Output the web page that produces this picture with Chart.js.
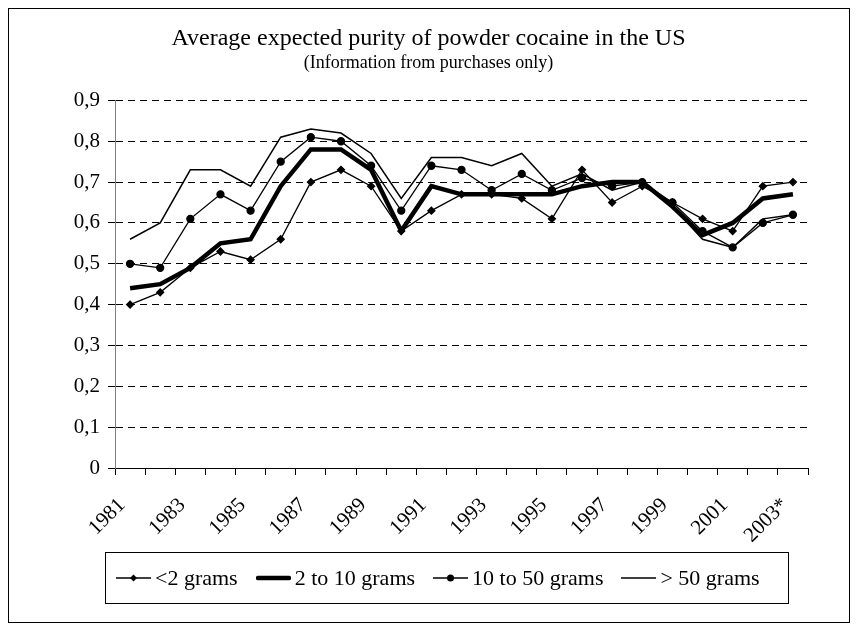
<!DOCTYPE html>
<html>
<head>
<meta charset="utf-8">
<script src="https://cdn.jsdelivr.net/npm/chart.js@4.4.1/dist/chart.umd.min.js"></script>
<style>
  html, body { margin: 0; padding: 0; background: #fff; }
  #wrap { position: relative; width: 857px; height: 631px; }
  #purityChart { position: absolute; left: 0; top: 0; }
  #frame { position: absolute; left: 8px; top: 8px; width: 840px; height: 613px; border: 1px solid #000; pointer-events: none; }
  #legend {
    position: absolute; left: 105px; top: 552px; width: 672px; height: 50px;
    border: 1px solid #000; display: flex; align-items: center; padding-left: 10px; box-sizing: content-box;
    font-family: "Liberation Serif", "DejaVu Serif", serif; font-size: 22px; color: #000; white-space: nowrap;
  }
  #legend .item { display: flex; align-items: center; margin-right: 18px; }
  #legend canvas { margin-right: 4px; }
</style>
</head>
<body>
<div id="wrap">
  <canvas id="purityChart" width="857" height="631"></canvas>
  <div id="frame"></div>
  <div id="legend"></div>
</div>
<script>
// years on the x axis (last one is an estimate)
const years = ['1981', '1982', '1983', '1984', '1985', '1986', '1987', '1988', '1989', '1990',
  '1991', '1992', '1993', '1994', '1995', '1996', '1997', '1998', '1999', '2000',
  '2001', '2002', '2003*'];

// expected purity per purchase size
const under2 = [0.40, 0.43, 0.49, 0.53, 0.51, 0.56, 0.70, 0.73, 0.69, 0.58,
  0.63, 0.67, 0.67, 0.66, 0.61, 0.73, 0.65, 0.69, 0.65, 0.61,
  0.58, 0.69, 0.70];
const from2to10 = [0.44, 0.45, 0.49, 0.55, 0.56, 0.69, 0.78, 0.78, 0.73, 0.58,
  0.69, 0.67, 0.67, 0.67, 0.67, 0.69, 0.70, 0.70, 0.64, 0.57,
  0.60, 0.66, 0.67];
const from10to50 = [0.50, 0.49, 0.61, 0.67, 0.63, 0.75, 0.81, 0.80, 0.74, 0.63,
  0.74, 0.73, 0.68, 0.72, 0.68, 0.71, 0.69, 0.70, 0.65, 0.58,
  0.54, 0.60, 0.62];
const over50 = [0.56, 0.60, 0.73, 0.73, 0.69, 0.81, 0.83, 0.82, 0.77, 0.66,
  0.76, 0.76, 0.74, 0.77, 0.69, 0.72, 0.68, 0.70, 0.64, 0.56,
  0.54, 0.61, 0.62];

const yTicks = [0, 0.1, 0.2, 0.3, 0.4, 0.5, 0.6, 0.7, 0.8, 0.9];

const serif = '"Liberation Serif", "DejaVu Serif", serif';

const chart = new Chart(document.getElementById('purityChart'), {
  type: 'line',
  data: {
    labels: years,
    datasets: [{
      label: '<2 grams',
      data: under2,
      borderColor: '#000',
      backgroundColor: '#000',
      borderWidth: 1.3,
      pointStyle: 'rectRot',
      pointRadius: 3.5,
      fill: false
    }, {
      label: '2 to 10 grams',
      data: from2to10,
      borderColor: '#000',
      backgroundColor: '#000',
      borderWidth: 4.5,
      pointRadius: 0,
      fill: false
    }, {
      label: '10 to 50 grams',
      data: from10to50,
      borderColor: '#000',
      backgroundColor: '#000',
      borderWidth: 1.3,
      pointStyle: 'circle',
      pointRadius: 3.5,
      fill: false
    }, {
      label: '> 50 grams',
      data: over50,
      borderColor: '#000',
      backgroundColor: '#000',
      borderWidth: 1.5,
      pointRadius: 0,
      fill: false
    }]
  },
  options: {
    responsive: false,
    animation: false,
    layout: { padding: { left: 49, right: 49, top: 0, bottom: 79 } },
    elements: { line: { tension: 0 } },
    plugins: {
      title: {
        display: true,
        text: 'Average expected purity of powder cocaine in the US',
        color: '#000',
        font: { family: serif, size: 24, weight: 'normal' },
        padding: { top: 24, bottom: 0 }
      },
      subtitle: {
        display: true,
        text: '(Information from purchases only)',
        color: '#000',
        font: { family: serif, size: 18, weight: 'normal' },
        padding: { top: 0, bottom: 26 }
      },
      legend: { display: false },
      tooltip: { enabled: false }
    },
    scales: {
      x: {
        offset: true,
        afterFit: s => { s.height = 84; },
        grid: { offset: true, drawOnChartArea: false, color: '#000', tickLength: 7 },
        border: { color: '#000', width: 1 },
        ticks: {
          autoSkip: false,
          minRotation: 45,
          maxRotation: 45,
          padding: 18,
          labelOffset: -8,
          color: '#000',
          font: { family: serif, size: 21 },
          callback: (v, i) => (i % 2 === 0 ? years[i] : '')
        }
      },
      y: {
        min: 0,
        max: 0.9,
        afterBuildTicks: s => { s.ticks = yTicks.map(v => ({ value: v })); },
        afterFit: s => { s.width = 66; },
        grid: { color: '#000', lineWidth: 1, tickLength: 7, tickBorderDash: [] },
        border: { color: '#808080', width: 1, dash: [7, 5] },
        ticks: {
          padding: 8,
          color: '#000',
          font: { family: serif, size: 21 },
          callback: v => (v === 0 ? '0' : v.toFixed(1).replace('.', ','))
        }
      }
    }
  }
});

// legend below the chart, built from the datasets
function legendSample(ds) {
  const c = document.createElement('canvas');
  c.width = 35;
  c.height = 12;
  const g = c.getContext('2d');
  g.strokeStyle = '#000';
  g.fillStyle = '#000';
  g.lineWidth = ds.borderWidth;
  g.lineCap = ds.borderWidth > 3 ? 'round' : 'butt';
  g.beginPath();
  g.moveTo(ds.borderWidth > 3 ? 2 : 0, 6);
  g.lineTo(ds.borderWidth > 3 ? 33 : 35, 6);
  g.stroke();
  if (ds.pointRadius > 0 && ds.pointStyle === 'rectRot') {
    g.beginPath();
    g.moveTo(17.5, 2.5); g.lineTo(21, 6); g.lineTo(17.5, 9.5); g.lineTo(14, 6);
    g.closePath();
    g.fill();
  } else if (ds.pointRadius > 0) {
    g.beginPath();
    g.arc(17.5, 6, 3.5, 0, Math.PI * 2);
    g.fill();
  }
  return c;
}

const legendBox = document.getElementById('legend');
chart.data.datasets.forEach(ds => {
  const item = document.createElement('div');
  item.className = 'item';
  item.appendChild(legendSample(ds));
  const txt = document.createElement('span');
  txt.textContent = ds.label;
  item.appendChild(txt);
  legendBox.appendChild(item);
});
</script>
</body>
</html>
